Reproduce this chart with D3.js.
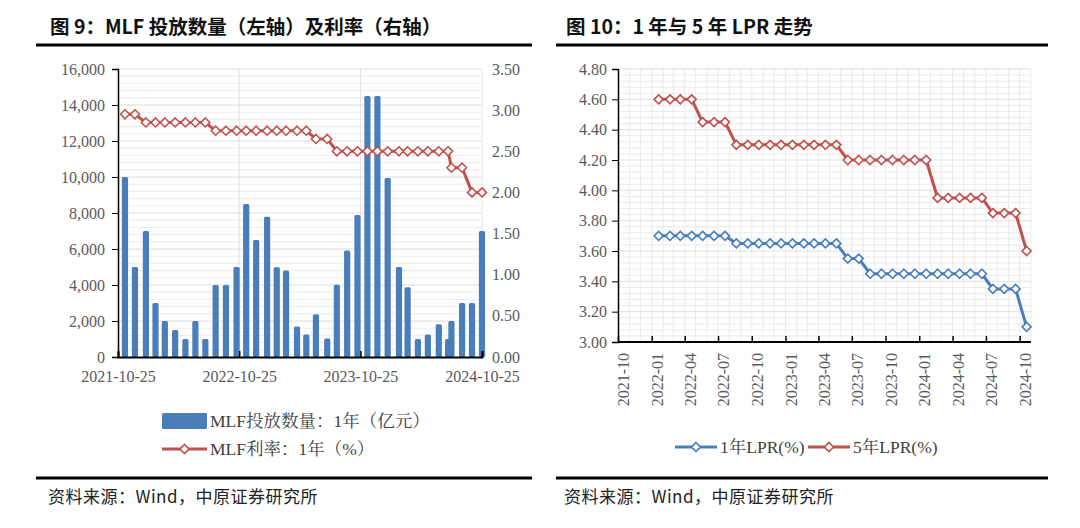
<!DOCTYPE html>
<html><head><meta charset="utf-8">
<script src="https://cdn.jsdelivr.net/npm/d3@7"></script>
<style>
body{margin:0;background:#fff;}
svg{display:block;}
.num{font-family:"Liberation Serif","Times New Roman",serif;fill:#595959;font-size:16px;}
.cjk{font-family:"Liberation Serif","Noto Serif CJK SC","Noto Sans CJK SC",serif;fill:#404040;font-size:17.5px;}
.title{font-family:"Noto Sans CJK SC",sans-serif;font-weight:bold;font-size:19.5px;fill:#111;}
.foot{font-family:"Noto Sans CJK SC",sans-serif;font-size:17px;letter-spacing:0.5px;fill:#222;}
</style></head>
<body>
<svg id="c" width="1080" height="528"></svg>
<script>
// ---- Data: MLF (left chart) ----
const mlfDates = ["2021-11-15","2021-12-15","2022-01-17","2022-02-15","2022-03-15","2022-04-15","2022-05-16","2022-06-15","2022-07-15","2022-08-15","2022-09-15","2022-10-17","2022-11-15","2022-12-15","2023-01-17","2023-02-15","2023-03-15","2023-04-17","2023-05-15","2023-06-13","2023-07-17","2023-08-15","2023-09-15","2023-10-16","2023-11-15","2023-12-15","2024-01-15","2024-02-18","2024-03-15","2024-04-15","2024-05-15","2024-06-17","2024-07-15","2024-07-25","2024-08-26","2024-09-25","2024-10-25"];
const mlfAmount = [10000,5000,7000,3000,2000,1500,1000,2000,1000,4000,4000,5000,8500,6500,7790,4990,4810,1700,1250,2370,1030,4010,5910,7890,14500,14500,9950,5000,3870,1000,1250,1820,1000,2000,3000,3000,7000];
const mlfRate = [2.95,2.95,2.85,2.85,2.85,2.85,2.85,2.85,2.85,2.75,2.75,2.75,2.75,2.75,2.75,2.75,2.75,2.75,2.75,2.65,2.65,2.50,2.50,2.50,2.50,2.50,2.50,2.50,2.50,2.50,2.50,2.50,2.50,2.30,2.30,2.00,2.00];
const mlfXTicks = ["2021-10-25","2022-10-25","2023-10-25","2024-10-25"];
const mlfLeftTicks = [0,2000,4000,6000,8000,10000,12000,14000,16000];
const mlfRightTicks = [0,0.5,1,1.5,2,2.5,3,3.5];

// ---- Data: LPR (right chart) ----
const lprMonths = ["2022-01","2022-02","2022-03","2022-04","2022-05","2022-06","2022-07","2022-08","2022-09","2022-10","2022-11","2022-12","2023-01","2023-02","2023-03","2023-04","2023-05","2023-06","2023-07","2023-08","2023-09","2023-10","2023-11","2023-12","2024-01","2024-02","2024-03","2024-04","2024-05","2024-06","2024-07","2024-08","2024-09","2024-10"];
const lpr1y = [3.70,3.70,3.70,3.70,3.70,3.70,3.70,3.65,3.65,3.65,3.65,3.65,3.65,3.65,3.65,3.65,3.65,3.55,3.55,3.45,3.45,3.45,3.45,3.45,3.45,3.45,3.45,3.45,3.45,3.45,3.35,3.35,3.35,3.10];
const lpr5y = [4.60,4.60,4.60,4.60,4.45,4.45,4.45,4.30,4.30,4.30,4.30,4.30,4.30,4.30,4.30,4.30,4.30,4.20,4.20,4.20,4.20,4.20,4.20,4.20,4.20,3.95,3.95,3.95,3.95,3.95,3.85,3.85,3.85,3.60];
const lprXTicks = ["2021-10","2022-01","2022-04","2022-07","2022-10","2023-01","2023-04","2023-07","2023-10","2024-01","2024-04","2024-07","2024-10"];
const lprYTicks = [3.00,3.20,3.40,3.60,3.80,4.00,4.20,4.40,4.60,4.80];

const BLUE = "#4a7ebb", RED = "#c0504d";
const svg = d3.select("#c");
svg.append("rect").attr("width",1080).attr("height",528).attr("fill","#fff");
const pd = d3.timeParse("%Y-%m-%d");
const pm = d3.timeParse("%Y-%m");

// ---------- headers / footers ----------
function header(x0,x1,tx,text){
  svg.append("text").attr("class","title").attr("x",tx).attr("y",34).text(text);
  svg.append("line").attr("x1",x0).attr("x2",x1).attr("y1",45).attr("y2",45).attr("stroke","#000").attr("stroke-width",3);
  svg.append("line").attr("x1",x0).attr("x2",x1).attr("y1",478).attr("y2",478).attr("stroke","#000").attr("stroke-width",3);
  svg.append("text").attr("class","foot").attr("x",tx-2).attr("y",503).text("资料来源：Wind，中原证券研究所");
}
header(36,532,50,"图 9：MLF 投放数量（左轴）及利率（右轴）");
header(556,1048,566,"图 10：1 年与 5 年 LPR 走势");

function diamond(g,x,y,color,r){
  g.append("path").attr("d",`M${x},${y-r}L${x+r},${y}L${x},${y+r}L${x-r},${y}Z`)
   .attr("fill","#fff").attr("stroke",color).attr("stroke-width",1.6);
}

// ---------- Left chart ----------
{
  const L=118,R=482,T=69,B=357;
  const x = d3.scaleTime().domain([pd(mlfXTicks[0]), pd(mlfXTicks[3])]).range([L,R]);
  const yL = d3.scaleLinear().domain([0,16000]).range([B,T]);
  const yR = d3.scaleLinear().domain([0,3.5]).range([B,T]);
  const g = svg.append("g");
  g.selectAll(".hg").data(d3.range(400,16001,400)).join("line")
    .attr("x1",L).attr("x2",R).attr("y1",d=>yL(d)).attr("y2",d=>yL(d))
    .attr("stroke",d=>d%2000===0?"#dcdcdc":"#ececec").attr("stroke-width",1);
  g.selectAll(".vg").data(mlfXTicks.slice(1)).join("line")
    .attr("x1",d=>x(pd(d))).attr("x2",d=>x(pd(d))).attr("y1",T).attr("y2",B)
    .attr("stroke","#e2e2e2");
  const bw=6.2;
  g.selectAll(".bar").data(mlfDates).join("rect")
    .attr("x",(d)=>x(pd(d))-bw/2).attr("width",bw)
    .attr("y",(d,i)=>yL(mlfAmount[i])).attr("height",(d,i)=>B-yL(mlfAmount[i]))
    .attr("fill",BLUE).attr("rx",1.5);
  const line = d3.line().x((d,i)=>x(pd(mlfDates[i]))).y(d=>yR(d));
  g.append("path").datum(mlfRate).attr("d",line).attr("fill","none").attr("stroke",RED).attr("stroke-width",3);
  mlfRate.forEach((v,i)=>diamond(g,x(pd(mlfDates[i])),yR(v),RED,4.5));
  const ax = g.append("g").attr("transform",`translate(${L},0)`)
    .call(d3.axisLeft(yL).tickValues(mlfLeftTicks).tickSize(6).tickPadding(7).tickFormat(d3.format(",")));
  ax.select(".domain").attr("stroke","#000").attr("stroke-width",1.5);
  ax.selectAll(".tick line").attr("stroke","#000");
  ax.selectAll("text").attr("class","num");
  const ar = g.append("g").attr("transform",`translate(${R},0)`)
    .call(d3.axisRight(yR).tickValues(mlfRightTicks).tickSize(0).tickPadding(10).tickFormat(d3.format(".2f")));
  ar.select(".domain").remove();
  ar.selectAll("text").attr("class","num");
  const axb = g.append("g").attr("transform",`translate(0,${B})`)
    .call(d3.axisBottom(x).tickValues(mlfXTicks.map(pd)).tickSize(-6).tickPadding(14).tickFormat(d3.timeFormat("%Y-%m-%d")));
  axb.select(".domain").attr("stroke","#000").attr("stroke-width",2);
  axb.selectAll(".tick line").attr("stroke","#000").attr("stroke-width",1.5);
  axb.selectAll("text").attr("class","num");
  const lg = svg.append("g");
  lg.append("rect").attr("x",162).attr("y",413).attr("width",45).attr("height",16).attr("fill",BLUE).attr("rx",1.5);
  lg.append("text").attr("class","cjk").attr("x",210).attr("y",427).text("MLF投放数量：1年（亿元）");
  lg.append("line").attr("x1",162).attr("x2",207).attr("y1",449).attr("y2",449).attr("stroke",RED).attr("stroke-width",3);
  diamond(lg,184.5,449,RED,4.5);
  lg.append("text").attr("class","cjk").attr("x",210).attr("y",455).text("MLF利率：1年（%）");
}

// ---------- Right chart ----------
{
  const L=618,R=1031,T=69,B=342;
  const x = d3.scaleTime().domain([pm("2021-10"), pm("2024-11")]).range([L,R]);
  const y = d3.scaleLinear().domain([3.0,4.8]).range([B,T]);
  const g = svg.append("g");
  const months = d3.timeMonth.range(pm("2021-11"), pm("2024-12"));
  g.selectAll(".vg").data(months).join("line")
    .attr("x1",d=>x(d)).attr("x2",d=>x(d)).attr("y1",T).attr("y2",B).attr("stroke","#ebebeb");
  g.selectAll(".hg").data(d3.range(1,46)).join("line")
    .attr("x1",L).attr("x2",R).attr("y1",d=>y(3+d*0.04)).attr("y2",d=>y(3+d*0.04))
    .attr("stroke",d=>d%5===0?"#dedede":"#ebebeb");
  const px = m => { const d = pm(m); return x(d3.timeDay.offset(d,19)); };
  const line = d3.line().x((d,i)=>px(lprMonths[i])).y(d=>y(d));
  [[lpr1y,BLUE],[lpr5y,RED]].forEach(([s,c])=>{
    g.append("path").datum(s).attr("d",line).attr("fill","none").attr("stroke",c).attr("stroke-width",3);
    s.forEach((v,i)=>diamond(g,px(lprMonths[i]),y(v),c,4.5));
  });
  const ay = g.append("g").attr("transform",`translate(${L},0)`)
    .call(d3.axisLeft(y).tickValues(lprYTicks).tickSize(6).tickPadding(5).tickFormat(d3.format(".2f")));
  ay.select(".domain").attr("stroke","#000").attr("stroke-width",1.5);
  ay.selectAll(".tick line").attr("stroke","#000");
  ay.selectAll("text").attr("class","num");
  const axb = g.append("g").attr("transform",`translate(0,${B})`)
    .call(d3.axisBottom(x).tickValues(lprXTicks.map(pm)).tickSize(-6).tickPadding(0).tickFormat(d3.timeFormat("%Y-%m")));
  axb.select(".domain").attr("stroke","#000").attr("stroke-width",2).attr("d",`M${L},0H${R}`);
  axb.selectAll(".tick line").attr("stroke","#000").attr("stroke-width",1.5);
  axb.selectAll("text").attr("class","num")
    .attr("transform","rotate(-90)").attr("text-anchor","end").attr("x",-11).attr("y",5).attr("dy","0.35em");
  const lg = svg.append("g");
  lg.append("line").attr("x1",675).attr("x2",717).attr("y1",447).attr("y2",447).attr("stroke",BLUE).attr("stroke-width",3);
  diamond(lg,696,447,BLUE,4.5);
  lg.append("text").attr("class","cjk").attr("x",720).attr("y",453).text("1年LPR(%)");
  lg.append("line").attr("x1",808).attr("x2",850).attr("y1",447).attr("y2",447).attr("stroke",RED).attr("stroke-width",3);
  diamond(lg,829,447,RED,4.5);
  lg.append("text").attr("class","cjk").attr("x",853).attr("y",453).text("5年LPR(%)");
}
</script>
</body></html>
